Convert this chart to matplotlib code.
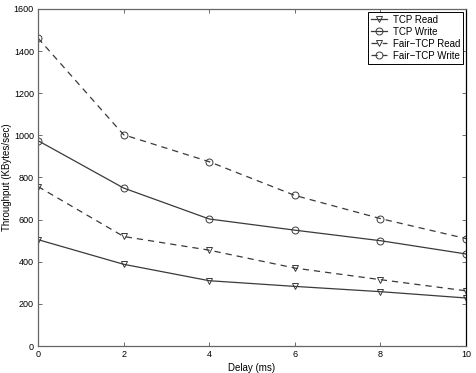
import matplotlib
matplotlib.use("Agg")
import matplotlib.pyplot as plt

plt.rcParams['font.family'] = ['Liberation Sans', 'DejaVu Sans']

delay = [0, 2, 4, 6, 8, 10]
tcp_read = [505, 388, 310, 283, 258, 228]
tcp_write = [975, 750, 603, 550, 500, 437]
fair_read = [757, 520, 455, 370, 315, 262]
fair_write = [1462, 1003, 875, 715, 605, 510]

fig = plt.figure(figsize=(4.76, 3.73), dpi=100)
ax = fig.add_axes([38 / 476, 27 / 373, 428 / 476, 337 / 373])

lc = '#3a3a3a'
kw = dict(color=lc, linewidth=0.9, markersize=5, markerfacecolor='none',
          markeredgecolor=lc, markeredgewidth=0.7)
ax.plot(delay, tcp_read, '-', marker='v', label='TCP Read', **kw)
ax.plot(delay, tcp_write, '-', marker='o', label='TCP Write', **kw)
ax.plot(delay, fair_read, '--', marker='v', label='Fair\u2212TCP Read', dashes=(5, 4), **kw)
ax.plot(delay, fair_write, '--', marker='o', label='Fair\u2212TCP Write', dashes=(5, 4), **kw)

ax.set_xlim(0, 10)
ax.set_ylim(0, 1600)
ax.set_xticks(delay)
ax.set_yticks(range(0, 1601, 200))
ax.tick_params(direction='in', top=True, right=True, labelsize=6.5, length=3,
               width=0.6, pad=3, colors='#555555', labelcolor='black')
for name, s in ax.spines.items():
    s.set_linewidth(0.9)
    s.set_color('#666666')
ax.spines['right'].set_color('black')
ax.set_xlabel('Delay (ms)', fontsize=7, labelpad=3)
ax.set_ylabel('Throughput (KBytes/sec)', fontsize=7, labelpad=1)

leg = ax.legend(loc='upper right', fontsize=7, fancybox=False, framealpha=1,
                edgecolor='black', borderaxespad=0.3, handlelength=1.6,
                handletextpad=0.6, labelspacing=0.2, borderpad=0.3)
leg.get_frame().set_linewidth(0.7)

fig.savefig('out.png', dpi=100)
